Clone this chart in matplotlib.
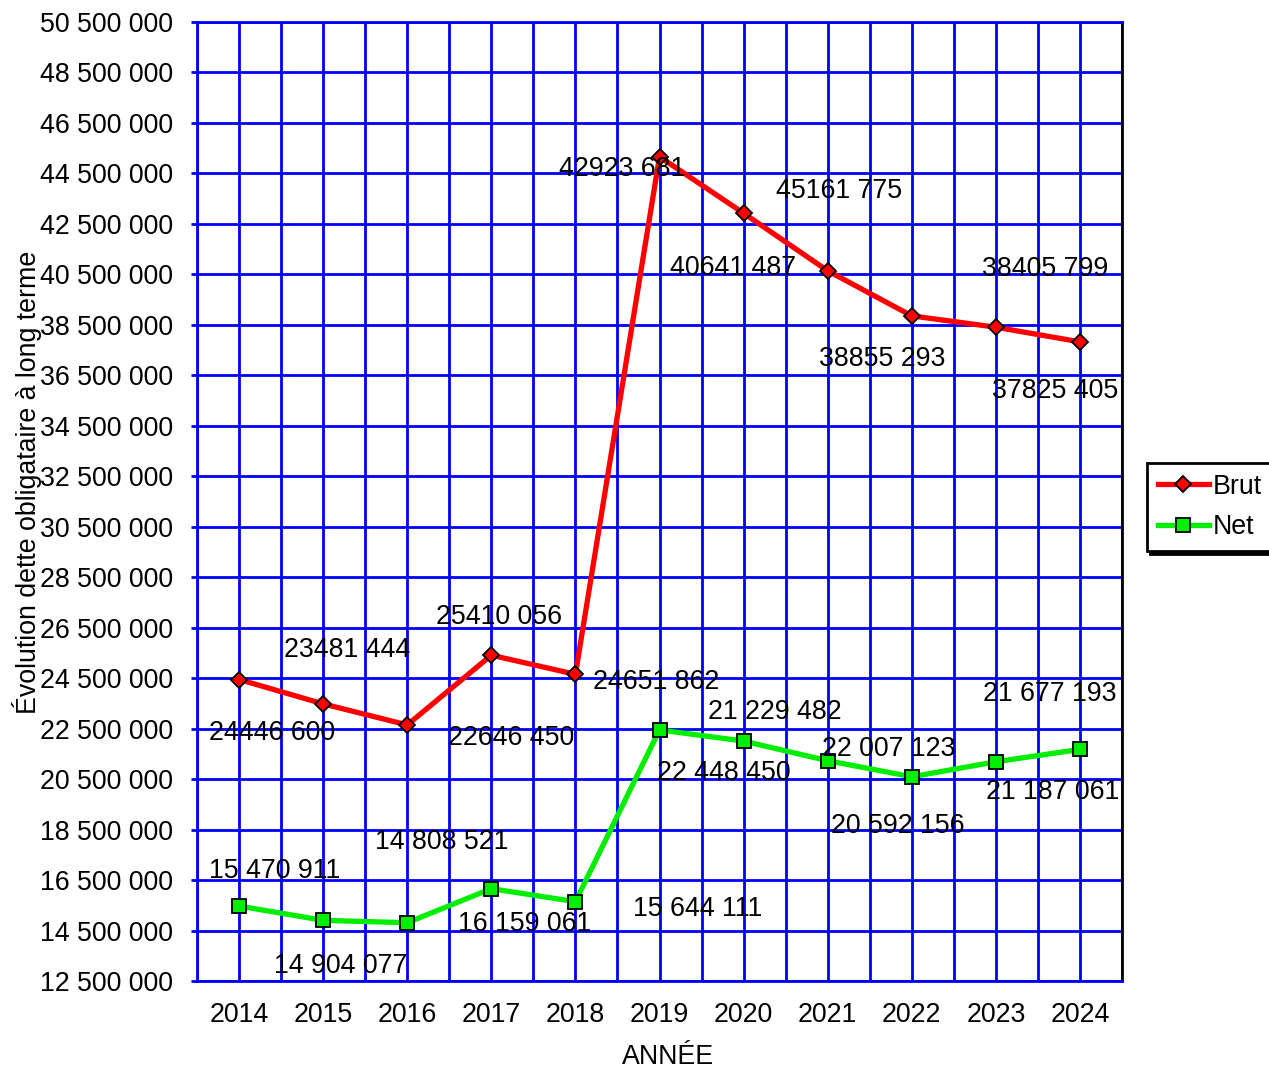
import matplotlib.pyplot as plt
from matplotlib.ticker import FuncFormatter, MultipleLocator

plt.rcParams['font.family'] = ['Liberation Sans', 'DejaVu Sans']

years = [2014, 2015, 2016, 2017, 2018, 2019, 2020, 2021, 2022, 2023, 2024]
brut = [24446600, 23481444, 22646450, 25410056, 24651862, 45161775,
        42923681, 40641487, 38855293, 38405799, 37825405]
net = [15470911, 14904077, 14808521, 16159061, 15644111, 22448450,
       22007123, 21229482, 20592156, 21187061, 21677193]

# where the value labels sit in the original (x in years, y in data units)
brut_lbl_x = [2014.39, 2015.29, 2017.24, 2017.09, 2018.96, 2021.14,
              2018.56, 2019.88, 2021.65, 2023.58, 2023.71]
brut_lbl_y = [22.33e6, 25.61e6, 22.13e6, 26.92e6, 24.35e6, 43.80e6,
              44.67e6, 40.75e6, 37.14e6, 40.71e6, 35.88e6]
net_lbl_x = [2014.42, 2015.21, 2016.41, 2017.40, 2019.45, 2019.76,
             2021.73, 2020.37, 2021.83, 2023.68, 2023.64]
net_lbl_y = [16.86e6, 13.09e6, 18.01e6, 14.76e6, 15.35e6, 20.74e6,
             21.69e6, 23.16e6, 18.64e6, 19.99e6, 23.87e6]


def space_fmt(v):
    return f"{int(round(v)):,}".replace(",", " ")


def brut_fmt(v):
    return f"{v // 1000} {v % 1000:03d}"


fs = 19.3
fig = plt.figure(figsize=(12.69, 10.69), dpi=100)
ax = fig.add_axes([197 / 1269, 1 - 981 / 1069, (1122 - 197) / 1269, (981 - 22) / 1069])

blue = '#0000FF'
ax.set_xlim(2013.5, 2024.5)
ax.set_ylim(12500000, 50500000)
ax.yaxis.set_major_locator(MultipleLocator(2000000, offset=500000))
ax.xaxis.set_major_locator(MultipleLocator(1))
ax.xaxis.set_minor_locator(MultipleLocator(0.5))
ax.yaxis.set_major_formatter(FuncFormatter(lambda v, p: space_fmt(v)))
ax.grid(True, which='both', axis='x', color=blue, lw=2, zorder=0)
ax.grid(True, which='major', axis='y', color=blue, lw=2, zorder=0)
ax.set_axisbelow(True)
for s in ax.spines.values():
    s.set_color(blue)
    s.set_linewidth(2)
ax.spines['right'].set_color('black')

ax.tick_params(axis='y', labelsize=fs, length=4.5, width=2, color=blue, pad=13)
ax.tick_params(axis='x', which='both', labelsize=fs, length=0, pad=15)

ax.plot(years, brut, color='#FF0000', lw=3.8, marker='D', ms=8,
        mfc='#FF0000', mec='black', mew=1.3, label='Brut', zorder=3)
ax.plot(years, net, color='#00EE00', lw=3.8, marker='s', ms=10,
        mfc='#00EE00', mec='black', mew=1.3, label='Net', zorder=3)

for v, x, y in zip(brut, brut_lbl_x, brut_lbl_y):
    ax.text(x, y, brut_fmt(v), fontsize=fs, ha='center', va='center', zorder=4)
for v, x, y in zip(net, net_lbl_x, net_lbl_y):
    ax.text(x, y, space_fmt(v), fontsize=fs, ha='center', va='center', zorder=4)

ax.set_xlabel('ANNÉE', fontsize=fs)
ax.xaxis.set_label_coords(0.509, -0.066)
ax.set_ylabel('Évolution dette obligataire à long terme', fontsize=fs)
ax.yaxis.set_label_coords(-0.168, 0.52)

leg = fig.legend(loc='upper left', bbox_to_anchor=(1147 / 1269, 1 - 463 / 1069),
                 borderaxespad=0, fontsize=fs, frameon=True, fancybox=False,
                 handlelength=1.9, handletextpad=0.15, borderpad=0.4,
                 labelspacing=0.55, shadow={'color': 'black', 'alpha': 1})
leg.get_frame().set_edgecolor('black')
leg.get_frame().set_linewidth(2)

fig.savefig('out.png', dpi=100)
